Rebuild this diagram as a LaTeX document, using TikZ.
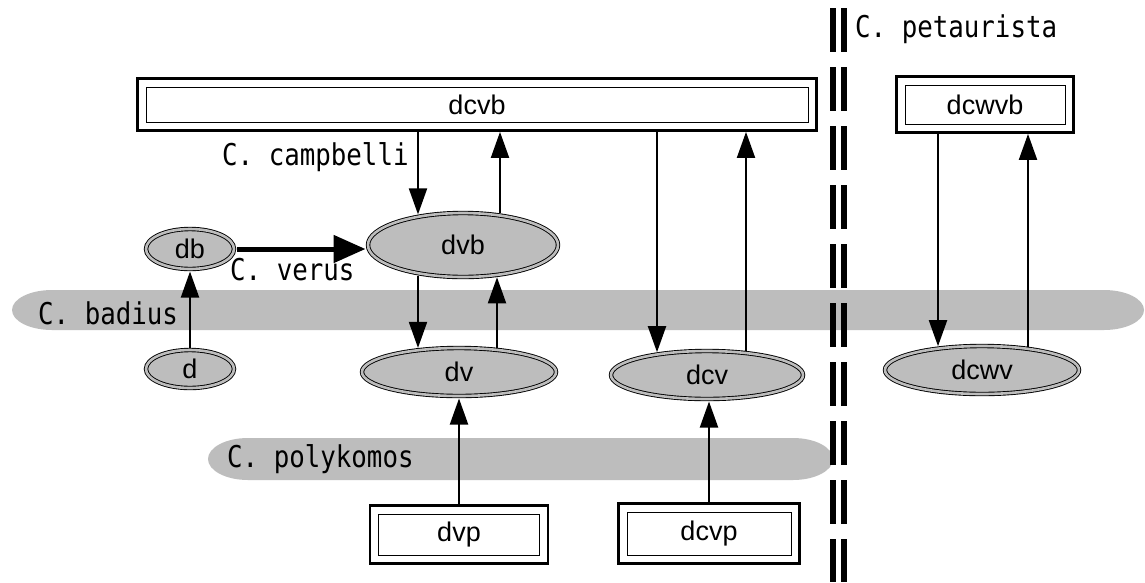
\documentclass[tikz,border=0pt]{standalone}
\usepackage{fontspec}
\setmainfont{Liberation Sans}
\newfontfamily\lblfont[FakeStretch=0.86]{DejaVu Sans Mono}
\usetikzlibrary{arrows.meta,shapes.geometric}
\definecolor{bandgray}{HTML}{BDBDBD}
\newcommand\nodefont{\fontsize{27}{29}\selectfont}
\begin{document}
\begin{tikzpicture}[x=1pt, y=-1pt,
  cell/.style={ellipse, draw=black, line width=0.9pt, double=bandgray,
    double distance=2.6pt, fill=bandgray, inner sep=0pt, outer sep=2.5pt,
    font=\nodefont},
  dbox/.style={rectangle, draw=black, line width=2.8pt, fill=white,
    inner sep=0pt, font=\nodefont,
    path picture={\draw[line width=1pt]
      ([shift={(8.5pt,8.5pt)}]path picture bounding box.south west) rectangle
      ([shift={(-8.5pt,-8.5pt)}]path picture bounding box.north east);}},
  arr/.style={line width=2pt, -{Triangle[width=18pt,length=26pt]}},
  bigarr/.style={line width=5pt, -{Triangle[width=27pt,length=32pt]}},
  lbl/.style={font=\lblfont\fontsize{30}{32}\selectfont, anchor=base west,
    inner sep=0pt},
  sepline/.style={line width=6pt, dash pattern=on 44pt off 15pt},
  band/.style={fill=bandgray}]

\fill[white] (0,0) rectangle (1145,582);
\useasboundingbox (0,0) rectangle (1145,582);

% species bands
\fill[band] (52,290) -- (1104,290)
  arc[start angle=90, end angle=-90, x radius=40pt, y radius=20pt]
  -- (52,330)
  arc[start angle=270, end angle=90, x radius=40pt, y radius=20pt] -- cycle;
\fill[band] (248,438) -- (793,438)
  arc[start angle=90, end angle=-90, x radius=40pt, y radius=21pt]
  -- (248,480)
  arc[start angle=270, end angle=90, x radius=40pt, y radius=21pt] -- cycle;

% double dashed separator
\draw[sepline] (833,8) -- (833,582);
\draw[sepline] (844,8) -- (844,582);

% boxes
\node[dbox, minimum width=679pt, minimum height=52pt] (dcvb) at (477,104.5) {dcvb};
\node[dbox, minimum width=177pt, minimum height=56pt] (dcwvb) at (985,104.5) {dcwvb};
\node[dbox, minimum width=178pt, minimum height=58pt] (dvp) at (459,534.5) {dvp};
\node[dbox, minimum width=181pt, minimum height=60pt] (dcvp) at (709,533.5) {dcvp};

% ellipses
\node[cell, minimum width=88pt, minimum height=40pt] (db) at (190,249) {db};
\node[cell, minimum width=88pt, minimum height=38pt] (d) at (190,369) {d};
\node[cell, minimum width=190pt, minimum height=64pt] (dvb) at (463,245) {dvb};
\node[cell, minimum width=194pt, minimum height=48pt] (dv) at (459,372) {dv};
\node[cell, minimum width=192pt, minimum height=48pt] (dcv) at (707,375) {dcv};
\node[cell, minimum width=194pt, minimum height=48pt] (dcwv) at (982,370) {dcwv};

% attachment points on the ellipse rims
\coordinate (dvbTL) at ([xshift=-45pt,yshift=30.6pt]dvb.center);
\coordinate (dvbTR) at ([xshift=37pt,yshift=31.9pt]dvb.center);
\coordinate (dvbBL) at ([xshift=-45pt,yshift=-30.6pt]dvb.center);
\coordinate (dvbBR) at ([xshift=34pt,yshift=-32.3pt]dvb.center);
\coordinate (dvTL) at ([xshift=-41pt,yshift=24.1pt]dv.center);
\coordinate (dvTR) at ([xshift=38pt,yshift=24.5pt]dv.center);
\coordinate (dcvTL) at ([xshift=-50pt,yshift=22.8pt]dcv.center);
\coordinate (dcvTR) at ([xshift=39pt,yshift=24.3pt]dcv.center);
\coordinate (dcwvTL) at ([xshift=-44pt,yshift=23.8pt]dcwv.center);
\coordinate (dcwvTR) at ([xshift=46pt,yshift=23.5pt]dcwv.center);

% connectors
\draw[arr] (dcvb.south -| dvbTL) -- (dvbTL);
\draw[arr] (dvbTR) -- (dcvb.south -| dvbTR);
\draw[arr] (dcvb.south -| dcvTL) -- (dcvTL);
\draw[arr] (dcvTR) -- (dcvb.south -| dcvTR);
\draw[arr] (dvbBL) -- (dvTL);
\draw[arr] (dvTR) -- (dvbBR);
\draw[arr] (dvp.north) -- (dvp.north |- dv.south);
\draw[arr] (dcvp.north) -- (dcvp.north |- dcv.south);
\draw[arr] (dcwvb.south -| dcwvTL) -- (dcwvTL);
\draw[arr] (dcwvTR) -- (dcwvb.south -| dcwvTR);
\draw[arr] (d.north) -- (db.south);
\draw[bigarr] (db.east) -- (db.east -| dvb.west);

% species labels
\node[lbl] (petaurista) at (855,37) {C. petaurista};
\node[lbl] (campbelli) at (222,165) {C. campbelli};
\node[lbl] (verus) at (230,280) {C. verus};
\node[lbl] (badius) at (38,324) {C. badius};
\node[lbl] (polykomos) at (227,467) {C. polykomos};
\end{tikzpicture}
\end{document}
